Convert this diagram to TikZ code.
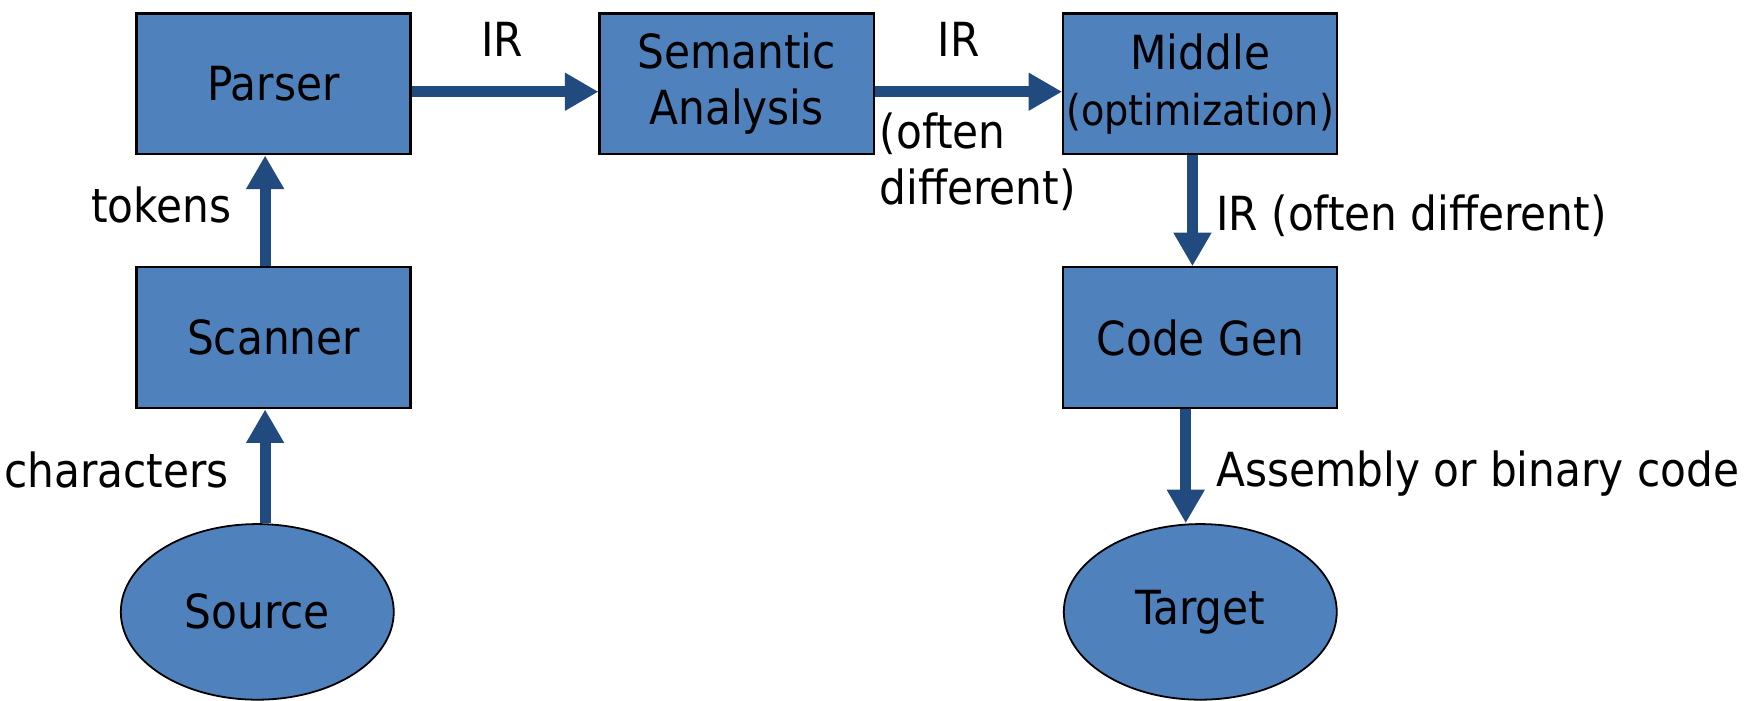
\documentclass[tikz,border=0pt]{standalone}
\usepackage{fontspec}
\setmainfont{DejaVu Sans Condensed}
\usetikzlibrary{arrows.meta,shapes.geometric,calc}
\definecolor{boxblue}{HTML}{4F81BD}
\definecolor{arrblue}{HTML}{214A7E}
\tikzset{
  x=0.5pt, y=-0.5pt,
  every node/.style={font=\fontsize{21pt}{25pt}\selectfont},
  stage/.style={draw=black, line width=1pt, fill=boxblue, minimum width=122.5pt, minimum height=63pt, align=center, inner sep=0pt},
  endpoint/.style={ellipse, draw=black, line width=0.8pt, fill=boxblue, minimum width=122pt, minimum height=78.5pt, inner sep=0pt},
  flow/.style={draw=arrblue, line width=5pt, -{Triangle[width=16pt,length=15pt]}},
  lbl/.style={inner sep=0pt, align=left}
}
\begin{document}
\begin{tikzpicture}
\useasboundingbox (0,0) rectangle (1568,626);
\node[stage] (parser) at (244.5,75) {Parser};
\node[stage] (sem) at (658.5,75) {Semantic\\Analysis};
\node[stage] (mid) at (1073,75) {\raisebox{-2pt}{Middle}\\{\fontsize{19pt}{25pt}\selectfont\raisebox{-2pt}{(optimization)}}};
\node[stage] (scan) at (244.5,302) {Scanner};
\node[stage] (cgen) at (1073,302) {Code Gen};
\node[endpoint] (src) at (230,547) {Source};
\node[endpoint] (tgt) at (1073,547) {Target};

\draw[flow] ($(parser.east)+(0,7)$) -- ($(sem.west)+(0,7)$);
\draw[flow] ($(sem.east)+(0,7)$) -- ($(mid.west)+(0,7)$);
\draw[flow] ($(scan.north)+(-7.5,0)$) -- ($(parser.south)+(-7.5,0)$);
\draw[flow] ($(src.north)+(7,0)$) -- ($(scan.south)+(-7.5,0)$);
\draw[flow] ($(mid.south)+(-7,0)$) -- ($(cgen.north)+(-7,0)$);
\draw[flow] ($(cgen.south)+(-13,0)$) -- ($(tgt.north)+(-13,0)$);

\node[lbl] (l1) at (449,35) {IR};
\node[lbl] (l2) at (857,35) {IR};
\node[lbl, anchor=west] (l3) at (786,145) {(often\\different)};
\node[lbl, anchor=east] (l4) at (207,183) {tokens};
\node[lbl, anchor=east] (l5) at (205,420) {characters};
\node[lbl, anchor=west] (l6) at (1087,193) {IR (often different)};
\node[lbl, anchor=west] (l7) at (1087,423) {Assembly or binary code};
\end{tikzpicture}
\end{document}
